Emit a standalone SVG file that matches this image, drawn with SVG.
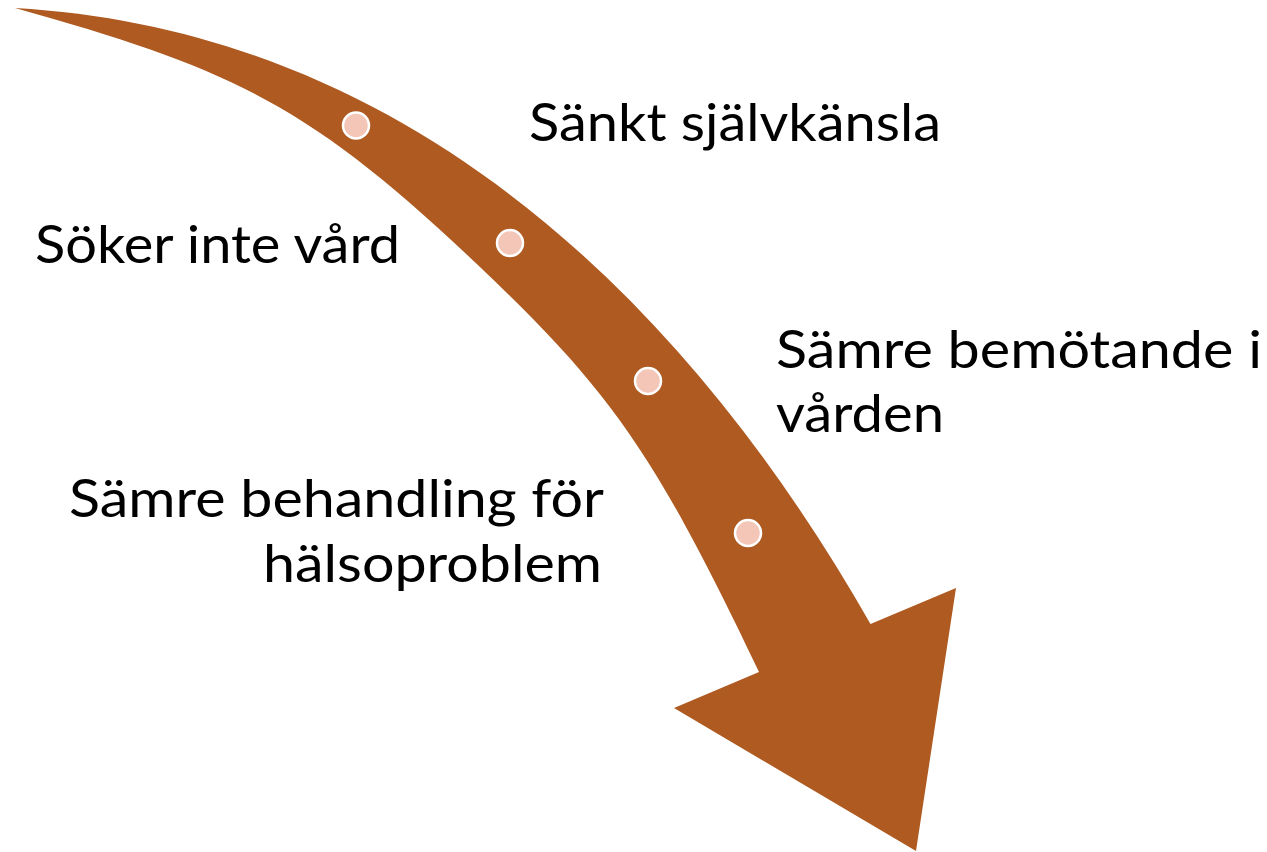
<svg xmlns="http://www.w3.org/2000/svg" width="1267" height="852" viewBox="0 0 1267 852">
  <style>
    .lbl { font-family: Lato, "Open Sans", "Liberation Sans", sans-serif; font-size: 53px; fill: #000000; }
    .arrow { fill: #AE5A21; stroke: none; }
    .dot { fill: #F4C6B8; stroke: #FFFFFF; stroke-width: 2.5; }
  </style>
  <rect x="0" y="0" width="1267" height="852" fill="#FFFFFF"/>
  <g id="arrow">
    <path class="arrow" d="M15,8 C400,30 680,290 870.5,624 L956,588 L916,851 L674,708 L759,672 C654,451.5 610,390.5 480,267 C310,105.5 235,69.6 15,8 Z"/>
  </g>
  <g id="dots">
    <circle class="dot" cx="356" cy="125.5" r="13"/>
    <circle class="dot" cx="510" cy="243" r="13"/>
    <circle class="dot" cx="648" cy="381" r="13"/>
    <circle class="dot" cx="748" cy="533" r="13"/>
  </g>
  <g id="label-sankt">
    <text class="lbl" x="529" y="141" textLength="412" lengthAdjust="spacingAndGlyphs">Sänkt självkänsla</text>
  </g>
  <g id="label-soker">
    <text class="lbl" x="35" y="263" textLength="365" lengthAdjust="spacingAndGlyphs">Söker inte vård</text>
  </g>
  <g id="label-bemotande">
    <text class="lbl" x="776" y="368" textLength="486" lengthAdjust="spacingAndGlyphs">Sämre bemötande i</text>
    <text class="lbl" x="776" y="432" textLength="168" lengthAdjust="spacingAndGlyphs">vården</text>
  </g>
  <g id="label-behandling">
    <text class="lbl" x="69" y="517" textLength="535" lengthAdjust="spacingAndGlyphs">Sämre behandling för</text>
    <text class="lbl" x="263" y="582" textLength="339" lengthAdjust="spacingAndGlyphs">hälsoproblem</text>
  </g>
</svg>
